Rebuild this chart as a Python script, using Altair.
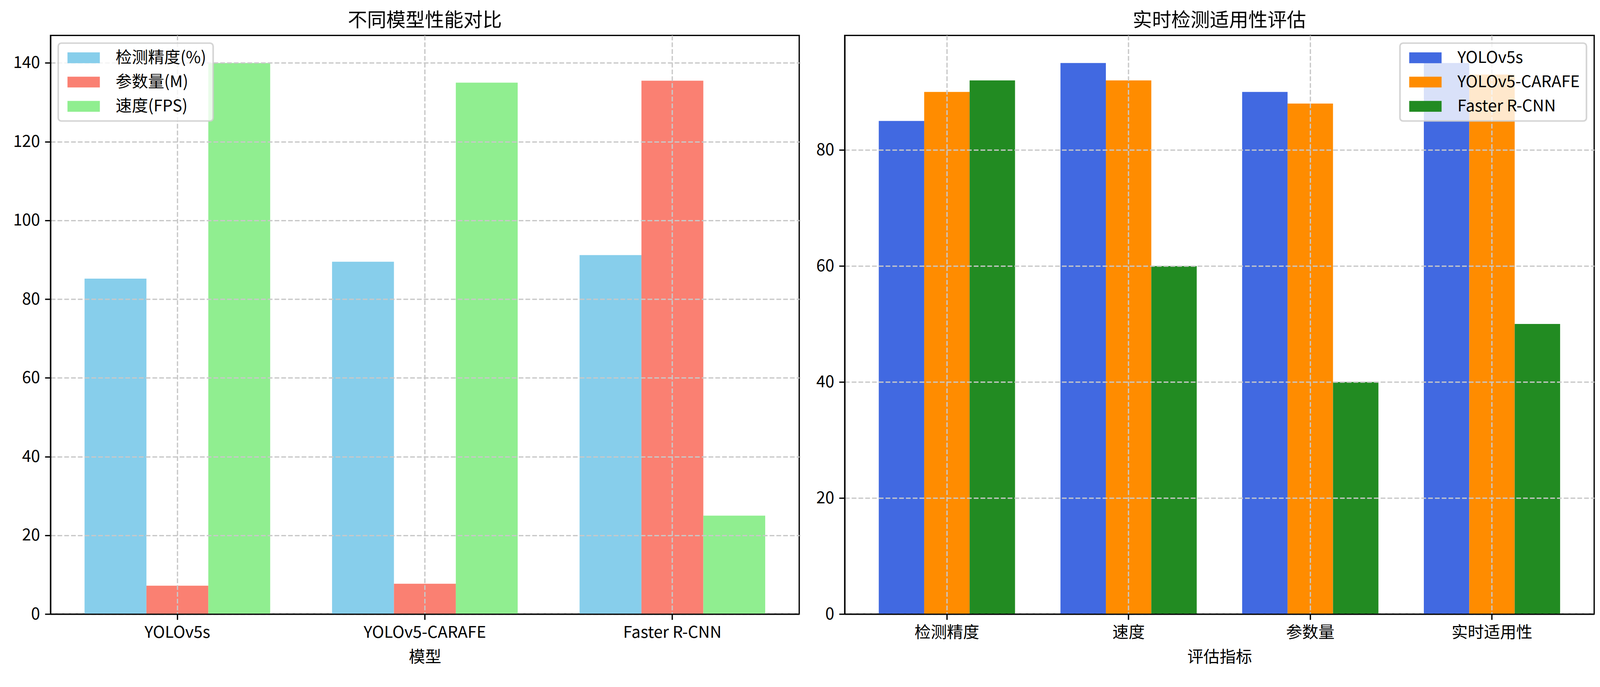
import altair as alt
import pandas as pd

# ---- data ----
models = ["YOLOv5s", "YOLOv5-CARAFE", "Faster R-CNN"]
left_series = ["检测精度(%)", "参数量(M)", "速度(FPS)"]
accuracy = [85.2, 89.5, 91.2]
params = [7.2, 7.7, 135.5]
fps = [140, 135, 25]
left_colors = ["#87CEEB", "#FA8072", "#90EE90"]
left_ticks = [0, 20, 40, 60, 80, 100, 120, 140]

metrics = ["检测精度", "速度", "参数量", "实时适用性"]
right_series = ["YOLOv5s", "YOLOv5-CARAFE", "Faster R-CNN"]
yolov5s_scores = [85, 95, 90, 95]
carafe_scores = [90, 92, 88, 93]
frcnn_scores = [92, 60, 40, 50]
right_colors = ["#4169E1", "#FF8C00", "#228B22"]
right_ticks = [0, 20, 40, 60, 80]

FONT = "Noto Sans CJK SC"
LW = 3.33

left_rows = []
for s, vals in zip(left_series, [accuracy, params, fps]):
    for m, v in zip(models, vals):
        left_rows.append({"group": m, "series": s, "value": v})
left_df = pd.DataFrame(left_rows)

right_rows = []
for s, vals in zip(right_series, [yolov5s_scores, carafe_scores, frcnn_scores]):
    for m, v in zip(metrics, vals):
        right_rows.append({"group": m, "series": s, "value": v})
right_df = pd.DataFrame(right_rows)


def legend(orient):
    return alt.Legend(
        title=None,
        orient=orient,
        offset=20,
        fillColor="rgba(255,255,255,0.8)",
        strokeColor="rgba(204,204,204,0.85)",
        cornerRadius=8,
        padding=17,
        symbolType="M-1,-1H5V1H-1Z",
        symbolSize=784,
        symbolStrokeWidth=0,
        symbolOpacity=1,
        labelFont=FONT,
        labelFontSize=42,
        labelColor="black",
        labelOffset=90,
        labelLimit=0,
        rowPadding=21,
        zindex=2,
    )


def panel(df, groups, series, colors, ymax, ticks, xtitle, title, pad_outer, width, orient):
    return alt.Chart(df).mark_bar(opacity=1).encode(
        x=alt.X(
            "group:N",
            sort=groups,
            scale=alt.Scale(paddingInner=0.25, paddingOuter=pad_outer),
            axis=alt.Axis(title=xtitle, labelAngle=0, bandPosition=0.5, zindex=1,
                          labelLimit=0),
        ),
        xOffset=alt.XOffset(
            "series:N", sort=series, scale=alt.Scale(paddingInner=0, paddingOuter=0)
        ),
        y=alt.Y(
            "value:Q",
            scale=alt.Scale(domain=[0, ymax], nice=False, zero=True),
            axis=alt.Axis(title=None, values=ticks, format="d", zindex=1),
        ),
        color=alt.Color(
            "series:N",
            sort=series,
            scale=alt.Scale(domain=series, range=colors),
            legend=legend(orient),
        ),
    ).properties(
        width=width,
        height=1501,
        title=alt.TitleParams(
            text=title,
            font=FONT,
            fontSize=50,
            fontWeight="normal",
            color="black",
            anchor="middle",
            baseline="alphabetic",
            offset=-27,
        ),
    )


left = panel(left_df, models, left_series, left_colors, 147, left_ticks,
             "模型", "不同模型性能对比", 0.1375, 1943, "top-left")
right = panel(right_df, metrics, right_series, right_colors, 99.75, right_ticks,
              "评估指标", "实时检测适用性评估", 0.1875, 1945, "top-right")

chart = alt.hconcat(left, right, spacing=40).resolve_scale(
    color="independent", x="independent", y="independent", xOffset="independent"
).resolve_legend(color="independent").properties(
    padding={"left": 23, "top": 7, "right": 5, "bottom": 5}
).configure(
    font=FONT,
    background="white",
).configure_view(
    stroke="black", strokeWidth=LW
).configure_axis(
    labelFont=FONT,
    labelFontSize=42,
    labelColor="black",
    labelPadding=13,
    titleFont=FONT,
    titleFontSize=42,
    titleFontWeight="normal",
    titleColor="black",
    titlePadding=23,
    tickColor="black",
    tickWidth=LW,
    tickSize=14.6,
    domainColor="black",
    domainWidth=LW,
    grid=True,
    gridColor="#c8c8c8",
    gridDash=[12.3, 5.3],
    gridWidth=LW,
).configure_legend(
    strokeWidth=4
)

chart.save("out.html", embed_options={"renderer": "svg", "actions": False})
